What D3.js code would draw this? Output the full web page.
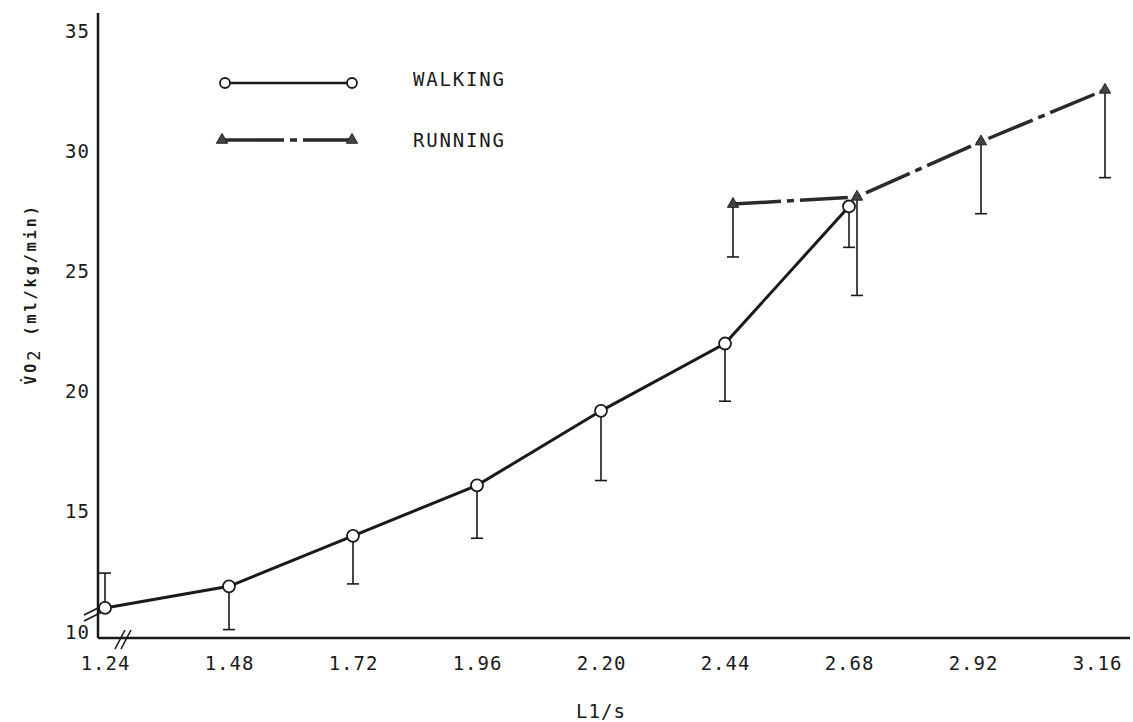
<!DOCTYPE html>
<html>
<head>
<meta charset="utf-8">
<script src="https://cdn.jsdelivr.net/npm/d3@7"></script>
<style>
  body { margin: 0; background: #fff; }
  text { font-family: "DejaVu Sans Mono", monospace; fill: #1a1a1a; }
</style>
</head>
<body>
<svg width="1133" height="722"></svg>
<script>
// speeds (l/s) and VO2 (ml/kg/min)
const walkSpeeds = [1.24, 1.48, 1.72, 1.96, 2.20, 2.44, 2.68];
const walkMean   = [11.0, 11.9, 14.0, 16.1, 19.2, 22.0, 27.7];
const walkErr    = [1.45, -1.8, -2.0, -2.2, -2.9, -2.4, -1.7]; // one-sided SD bars

const runSpeeds = [2.44, 2.68, 2.92, 3.16];
const runMean   = [27.8, 28.1, 30.4, 32.55];
const runErr    = [-2.2, -4.1, -3.0, -3.65];

const xTicks = [1.24, 1.48, 1.72, 1.96, 2.20, 2.44, 2.68, 2.92, 3.16];
const yTicks = [10, 15, 20, 25, 30, 35];

const svg = d3.select("svg");
const ink = "#1a1a1a";

const x = d3.scaleLinear().domain([1.24, 3.16]).range([105, 1097]);
const y = d3.scaleLinear().domain([10, 35]).range([632, 31]);
const runShift = 8; // running points sit a bit right of walking ones

const walk = walkSpeeds.map((s, i) => ({ s, v: walkMean[i], e: walkErr[i], dx: 0 }));
const run = runSpeeds.map((s, i) => ({ s, v: runMean[i], e: runErr[i], dx: runShift }));

// axes
const xAxisY = 638, yAxisX = 98;
const gy = svg.append("g").attr("transform", "translate(" + yAxisX + ",0)")
  .call(d3.axisLeft(y).tickValues(yTicks).tickSize(0).tickPadding(8));
gy.select(".domain").remove();
gy.selectAll("text").style("font-size", "19px").style("letter-spacing", "1px")
  .style("font-family", "DejaVu Sans Mono").attr("fill", ink);

const gx = svg.append("g").attr("transform", "translate(0," + xAxisY + ")")
  .call(d3.axisBottom(x).tickValues(xTicks).tickSize(0).tickPadding(19).tickFormat(d3.format(".2f")));
gx.select(".domain").remove();
gx.selectAll("text").style("font-size", "19px").style("letter-spacing", "1px")
  .style("font-family", "DejaVu Sans Mono").attr("fill", ink);

svg.append("line").attr("x1", yAxisX).attr("x2", yAxisX).attr("y1", 13).attr("y2", xAxisY)
  .attr("stroke", ink).attr("stroke-width", 2.5);
svg.append("line").attr("x1", yAxisX).attr("x2", 1130).attr("y1", xAxisY).attr("y2", xAxisY)
  .attr("stroke", ink).attr("stroke-width", 2.5);

// axis break marks
[0, 6].forEach(o => {
  svg.append("line").attr("x1", 84).attr("y1", 621 - o).attr("x2", 104).attr("y2", 611 - o)
    .attr("stroke", ink).attr("stroke-width", 1.6);
  svg.append("line").attr("x1", 115 + o).attr("y1", 649).attr("x2", 125 + o).attr("y2", 630)
    .attr("stroke", ink).attr("stroke-width", 1.6);
});

// error bars
const bars = svg.append("g").attr("stroke", ink).attr("stroke-width", 1.6);
walk.concat(run).forEach(d => {
  const px = x(d.s) + d.dx;
  bars.append("line").attr("x1", px).attr("x2", px).attr("y1", y(d.v)).attr("y2", y(d.v + d.e));
  bars.append("line").attr("x1", px - 6).attr("x2", px + 6).attr("y1", y(d.v + d.e)).attr("y2", y(d.v + d.e));
});

const line = d3.line().x(d => x(d.s) + d.dx).y(d => y(d.v));

svg.append("path").datum(walk).attr("d", line).attr("fill", "none")
  .attr("stroke", ink).attr("stroke-width", 3);
svg.append("path").datum(run).attr("d", line).attr("fill", "none")
  .attr("stroke", "#2a2a2a").attr("stroke-width", 3.5).attr("stroke-dasharray", "48,6,7,6");

const tri = d3.symbol().type(d3.symbolTriangle).size(55);
svg.append("g").selectAll("path").data(run).join("path")
  .attr("d", tri)
  .attr("transform", d => "translate(" + (x(d.s) + d.dx) + "," + y(d.v) + ")")
  .attr("fill", "#444").attr("stroke", "#222").attr("stroke-width", 1);

svg.append("g").selectAll("circle").data(walk).join("circle")
  .attr("cx", d => x(d.s) + d.dx).attr("cy", d => y(d.v)).attr("r", 6)
  .attr("fill", "#fff").attr("stroke", ink).attr("stroke-width", 1.8);

// legend
const leg = svg.append("g");
leg.append("line").attr("x1", 225).attr("x2", 352).attr("y1", 83).attr("y2", 83)
  .attr("stroke", ink).attr("stroke-width", 2.5);
[225, 352].forEach(cx => leg.append("circle").attr("cx", cx).attr("cy", 83).attr("r", 5)
  .attr("fill", "#fff").attr("stroke", ink).attr("stroke-width", 1.8));
leg.append("line").attr("x1", 222).attr("x2", 352).attr("y1", 140).attr("y2", 140)
  .attr("stroke", "#2a2a2a").attr("stroke-width", 3.5).attr("stroke-dasharray", "62,6,7,6");
[222, 352].forEach(cx => leg.append("path").attr("d", tri)
  .attr("transform", "translate(" + cx + ",140)").attr("fill", "#444").attr("stroke", "#222"));
leg.append("text").attr("x", 413).attr("y", 86).style("font-size", "19px")
  .style("letter-spacing", "1.8px").text("WALKING");
leg.append("text").attr("x", 413).attr("y", 147).style("font-size", "19px")
  .style("letter-spacing", "1.8px").text("RUNNING");

// axis titles
svg.append("text").attr("x", x(2.20)).attr("y", 718).attr("text-anchor", "middle")
  .style("font-size", "19px").style("letter-spacing", "1px").text("L1/s");

const yl = svg.append("text").attr("transform", "translate(36,294) rotate(-90)")
  .attr("text-anchor", "middle").style("font-size", "15px").style("font-weight", "bold")
  .style("letter-spacing", "3px");
yl.append("tspan").text("V\u0307O");
yl.append("tspan").attr("dy", 4).style("font-size", "17px").style("font-weight", "normal").text("2");
yl.append("tspan").attr("dy", -4).text(" (ml/kg/min)");
</script>
</body>
</html>
